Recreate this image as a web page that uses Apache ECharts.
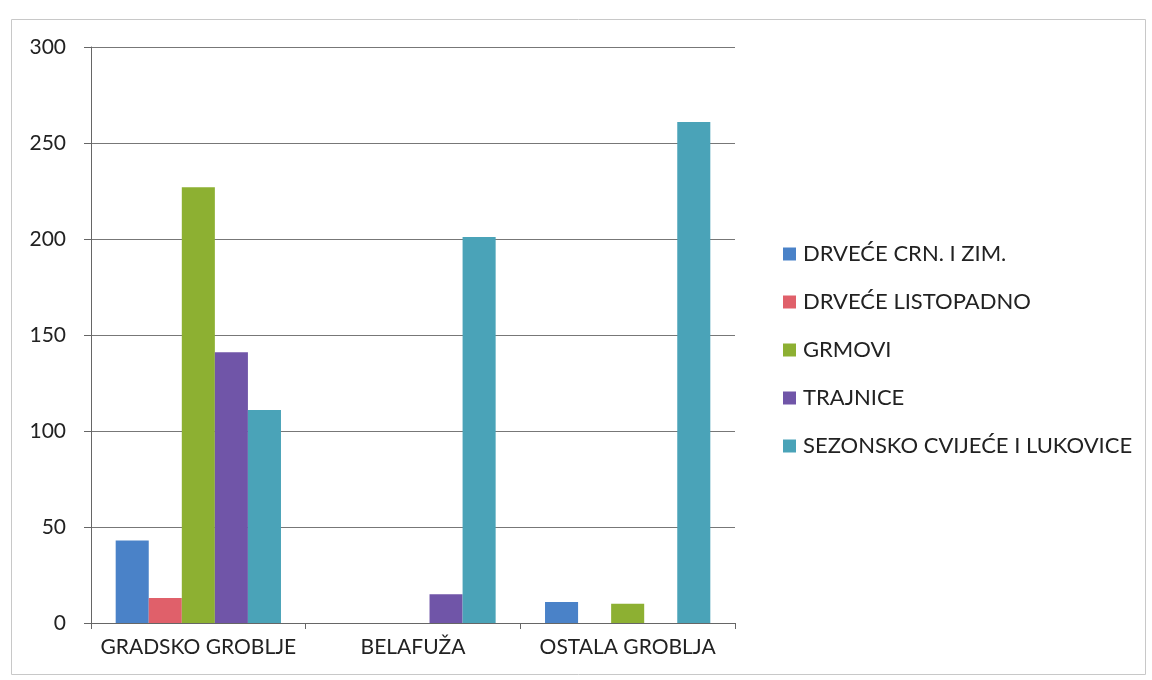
<!DOCTYPE html>
<html><head><meta charset="utf-8">
<script src="https://cdn.jsdelivr.net/npm/echarts@6/dist/echarts.min.js"></script>
<style>html,body{margin:0;padding:0;background:#fff}#c{width:1152px;height:680px}</style>
</head><body><div id="c"></div>
<script>
const categories = ['GRADSKO GROBLJE', 'BELAFUŽA', 'OSTALA GROBLJA'];
const seriesNames = ['DRVEĆE CRN. I ZIM.', 'DRVEĆE LISTOPADNO', 'GRMOVI', 'TRAJNICE', 'SEZONSKO CVIJEĆE I LUKOVICE'];
const drveceCrn = [43, 0, 11];
const drveceListopadno = [13, 0, 0];
const grmovi = [227, 0, 10];
const trajnice = [141, 15, 0];
const sezonsko = [111, 201, 261];
const colors = ['#4A82C8', '#E0606A', '#8DB032', '#7055A8', '#4AA3B8'];
const values = [drveceCrn, drveceListopadno, grmovi, trajnice, sezonsko];
const font = 'Lato, Carlito, "Open Sans", sans-serif';

const chart = echarts.init(document.getElementById('c'));
chart.setOption({
  animation: false,
  color: colors,
  graphic: [{
    type: 'rect', left: 9, top: 17, shape: { width: 1134, height: 655 },
    style: { fill: 'none', stroke: '#c8c8c8', lineWidth: 1 }
  }],
  grid: { left: 91, right: 417, top: 47, bottom: 57 },
  legend: {
    orient: 'vertical', left: 778, top: 238, itemGap: 26, itemWidth: 13, itemHeight: 13,
    icon: 'rect', data: seriesNames,
    textStyle: { fontFamily: font, fontSize: 22, color: '#222', padding: [0, 0, 0, 2] }
  },
  xAxis: {
    type: 'category', data: categories,
    axisLine: { lineStyle: { color: '#666' } },
    axisTick: { show: true, length: 6, lineStyle: { color: '#666' } },
    axisLabel: { fontFamily: font, fontSize: 21, color: '#222', margin: 14, interval: 0, hideOverlap: false }
  },
  yAxis: {
    type: 'value', min: 0, max: 300, interval: 50,
    axisLine: { show: true, lineStyle: { color: '#666' } },
    axisTick: { show: true, length: 7, lineStyle: { color: '#666' } },
    splitLine: { lineStyle: { color: '#777' } },
    axisLabel: { fontFamily: font, fontSize: 21, color: '#222', margin: 25 }
  },
  series: seriesNames.map((n, i) => ({
    name: n, type: 'bar', data: values[i],
    barGap: '0%', barCategoryGap: '23%'
  }))
});
</script></body></html>
